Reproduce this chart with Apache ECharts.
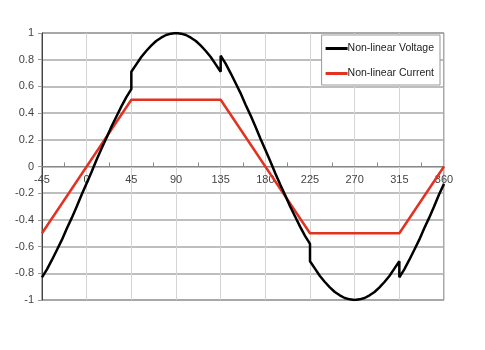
<!DOCTYPE html>
<html>
<head>
<meta charset="utf-8">
<script src="https://cdn.jsdelivr.net/npm/echarts@6/dist/echarts.min.js"></script>
<style>
  html, body { margin:0; padding:0; background:#fff; }
  #main { width:485px; height:350px; }
</style>
</head>
<body>
<div id="main"></div>
<script>
// angles (deg) and values; duplicated angles are the jumps
var voltageAngles = [
  -45,-40,-35,-30,-25,-20,-15,-10,-5,0,5,10,15,20,25,30,35,40,45,
  45,50,55,60,65,70,75,80,85,90,95,100,105,110,115,120,125,130,135,
  135,140,145,150,155,160,165,170,175,180,185,190,195,200,205,210,215,220,225,
  225,230,235,240,245,250,255,260,265,270,275,280,285,290,295,300,305,310,315,
  315,320,325,330,335,340,345,350,355,360];
var voltageValues = [
  -0.83,-0.77,-0.7,-0.625,-0.55,-0.465,-0.385,-0.3,-0.21,-0.125,-0.04,0.05,0.135,0.215,0.3,0.375,0.45,0.52,0.58,
  0.71,0.765,0.82,0.865,0.905,0.94,0.965,0.985,0.995,1,0.995,0.985,0.965,0.94,0.905,0.865,0.82,0.765,0.71,
  0.83,0.77,0.7,0.625,0.55,0.465,0.385,0.3,0.21,0.125,0.04,-0.05,-0.135,-0.215,-0.3,-0.375,-0.45,-0.52,-0.58,
  -0.71,-0.765,-0.82,-0.865,-0.905,-0.94,-0.965,-0.985,-0.995,-1,-0.995,-0.985,-0.965,-0.94,-0.905,-0.865,-0.82,-0.765,-0.71,
  -0.83,-0.77,-0.7,-0.625,-0.55,-0.465,-0.385,-0.3,-0.21,-0.13];
var currentAngles = [-45,45,135,225,315,360];
var currentValues = [-0.5,0.5,0.5,-0.5,-0.5,0];

function pairs(xs, ys){
  return xs.map(function(x, i){ return [x, ys[i]]; });
}

var myChart = echarts.init(document.getElementById('main'));
myChart.setOption({
  animation: false,
  textStyle: { fontFamily: 'Liberation Sans' },
  grid: {
    left: 42, right: 41, top: 33, bottom: 50,
    show: true, borderColor: '#555', borderWidth: 1
  },
  legend: {
    orient: 'vertical',
    right: 45, top: 35,
    backgroundColor: '#fff',
    borderColor: '#999', borderWidth: 1,
    padding: [8, 6, 6, 4],
    itemGap: 14,
    icon: 'rect', itemWidth: 22, itemHeight: 3,
    textStyle: { fontSize: 10.5, color: '#222', padding: [0, 0, 0, -5] },
    data: ['Non-linear Voltage', 'Non-linear Current']
  },
  xAxis: {
    type: 'value',
    min: -45, max: 360, interval: 45,
    // axis sits on the y = 0 line (plot height 267px, half of it up)
    axisLine: { onZero: false, lineStyle: { color: '#888' } },
    offset: -133.5,
    axisTick: { show: false },
    minorTick: { show: true, splitNumber: 2, length: -4, lineStyle: { color: '#888' } },
    axisLabel: { color: '#444', fontSize: 11, margin: 8, showMaxLabel: true },
    splitLine: { lineStyle: { color: '#d4d4d4' } }
  },
  yAxis: {
    type: 'value',
    min: -1, max: 1, interval: 0.2,
    axisLine: { show: true, onZero: false, lineStyle: { color: '#444' } },
    axisTick: { show: true, length: 4, lineStyle: { color: '#999' } },
    axisLabel: { color: '#444', fontSize: 11, margin: 8 },
    splitLine: { lineStyle: { color: '#a8a8a8', width: 1.5 } }
  },
  series: [
    {
      name: 'Non-linear Voltage',
      type: 'line',
      showSymbol: false,
      data: pairs(voltageAngles, voltageValues),
      lineStyle: { color: '#000', width: 2.5 },
      itemStyle: { color: '#000' },
      z: 3
    },
    {
      name: 'Non-linear Current',
      type: 'line',
      showSymbol: false,
      data: pairs(currentAngles, currentValues),
      lineStyle: { color: '#e3321f', width: 2.5 },
      itemStyle: { color: '#e3321f' },
      z: 2
    }
  ]
});
</script>
</body>
</html>
